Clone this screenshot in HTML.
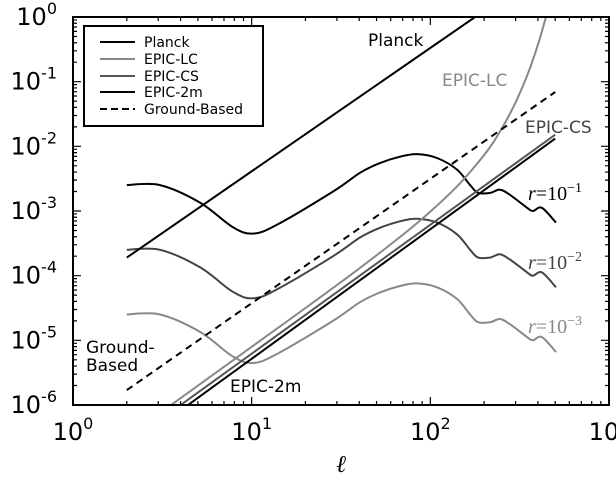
<!DOCTYPE html>
<html><head><meta charset="utf-8"><style>
html,body{margin:0;padding:0;background:#fff;}
svg{display:block;font-family:"DejaVu Sans","Liberation Sans",sans-serif;}
</style></head><body>
<svg id="chart" width="616" height="483" viewBox="0 0 616 483" xmlns="http://www.w3.org/2000/svg"></svg>
<script>
// ---- data (log10 values) ----
const rEll = [2, 3.07, 5.14, 7.85, 10.2, 13.9, 28.5, 40.4, 52.2, 67.6, 84.1, 109, 141, 167, 185, 216, 245, 279, 348, 375, 421, 505];
const rShape = [-2.60, -2.60, -2.87, -3.25, -3.35, -3.21, -2.70, -2.41, -2.26, -2.16, -2.12, -2.18, -2.36, -2.60, -2.72, -2.72, -2.67, -2.75, -2.95, -3.00, -2.95, -3.18];
const rValues = [-1, -2, -3];
const planckEll = [2, 178];
const planckVal = [-3.72, 0];
const groundEll = [2, 500];
const groundVal = [-5.77, -1.16];
const lcEll = [3.27, 10, 20, 40.4, 70, 100, 140, 180, 220, 260, 300, 350, 400, 444];
const lcVal = [-6.07, -5.10, -4.50, -3.88, -3.37, -3.01, -2.63, -2.29, -1.98, -1.65, -1.32, -0.89, -0.43, 0];
const csEll = [4.0, 500];
const csVal = [-6.0, -1.82];
const m2Ell = [4.4, 500];
const m2Val = [-6.0, -1.88];
const xTicks = [0, 1, 2, 3];
const yTicks = [0, -1, -2, -3, -4, -5, -6];

// ---- axes ----
const L = 73, R = 609, T = 17, B = 405;
const X = l => L + (R - L) * Math.log10(l) / 3;
const Y = lv => T + (B - T) * (-lv) / 6;
const svg = document.getElementById('chart');
const NS = 'http://www.w3.org/2000/svg';
function mk(tag, attrs, parent) {
  const e = document.createElementNS(NS, tag);
  for (const k in attrs) e.setAttribute(k, attrs[k]);
  (parent || svg).appendChild(e);
  return e;
}
function pathFrom(ells, vals) {
  const p = ells.map((l, i) => [X(l), Y(vals[i])]);
  let d = 'M' + p[0][0].toFixed(1) + ',' + p[0][1].toFixed(1);
  for (let i = 0; i < p.length - 1; i++) {
    const p0 = p[Math.max(0, i - 1)], p1 = p[i], p2 = p[i + 1], p3 = p[Math.min(p.length - 1, i + 2)];
    const c1 = [p1[0] + (p2[0] - p0[0]) / 6, p1[1] + (p2[1] - p0[1]) / 6];
    const c2 = [p2[0] - (p3[0] - p1[0]) / 6, p2[1] - (p3[1] - p1[1]) / 6];
    d += ' C' + c1.map(v => v.toFixed(1)).join(',') + ' ' + c2.map(v => v.toFixed(1)).join(',') + ' ' + p2[0].toFixed(1) + ',' + p2[1].toFixed(1);
  }
  return d;
}
mk('defs', {}).innerHTML = '<clipPath id="clip"><rect x="73" y="17" width="536" height="388"/></clipPath>';
const g = mk('g', {'clip-path': 'url(#clip)'});



function series(ells, vals, color, name, dash) {
  const a = {d: pathFrom(ells, vals), fill: 'none', stroke: color, 'stroke-width': 2};
  if (dash) a['stroke-dasharray'] = dash;
  const e = mk('path', a, g);
  
  
}
const rColors = ['#000', '#444', '#888'];
rValues.forEach((rv, k) => {
  series(rEll, rShape.map(v => v + (rv + 1)), rColors[k], 'signal-r-' + (k + 1));
});
series(planckEll, planckVal, '#000', 'planck-line');
series(lcEll, lcVal, '#888', 'epic-lc-line');
series(csEll, csVal, '#555', 'epic-cs-line');
series(m2Ell, m2Val, '#000', 'epic-2m-line');
series(groundEll, groundVal, '#000', 'ground-based-line', '7,5');

// frame
const fr = mk('rect', {x: L, y: T, width: R - L, height: B - T, fill: 'none', stroke: '#000', 'stroke-width': 2});



// ticks
let td = '';
for (let dec = 0; dec < 3; dec++) for (let m = 1; m <= 9; m++) {
  const x = X(m * Math.pow(10, dec)); const len = m === 1 ? 8 : 4;
  td += `M${x},${B}v${-len}M${x},${T}v${len}`;
}
for (let dec = -6; dec < 0; dec++) for (let m = 1; m <= 9; m++) {
  const y = Y(dec + Math.log10(m)); const len = m === 1 ? 8 : 4;
  td += `M${L},${y}h${len}M${R},${y}h${-len}`;
}
const tk = mk('path', {d: td, stroke: '#000', 'stroke-width': 1.2, fill: 'none'});



xTicks.forEach(t => {
  const e = mk('text', {x: X(Math.pow(10, t)), y: 440, 'text-anchor': 'middle', 'font-size': 24});
  
  
  e.innerHTML = '10<tspan dy="-11" font-size="16">' + t + '</tspan>';
});
yTicks.forEach(t => {
  const e = mk('text', {x: 57, y: Y(t) + 8, 'text-anchor': 'end', 'font-size': 24});
  
  
  e.innerHTML = '10<tspan dy="-11" font-size="16">' + t + '</tspan>';
});
const xl = mk('text', {x: 341, y: 472, 'text-anchor': 'middle', 'font-size': 24, 'font-style': 'italic', 'font-family': 'Liberation Serif, serif'});


xl.textContent = 'ℓ';

// annotations
function label(x, y, txt, color, name, size) {
  const e = mk('text', {x: x, y: y, fill: color, 'font-size': size || 17});
  
  
  e.innerHTML = txt;
  return e;
}
label(368, 46, 'Planck', '#000', 'planck-label');
label(442, 86, 'EPIC-LC', '#888', 'epic-lc-label');
label(525, 133, 'EPIC-CS', '#444', 'epic-cs-label');
label(230, 392, 'EPIC-2m', '#000', 'epic-2m-label');
label(86, 353, 'Ground-', '#000', 'ground-label-1');
label(86, 371, 'Based', '#000', 'ground-label-2');
const rl = ['−1', '−2', '−3'];
[200, 269, 333].forEach((y, k) => {
  label(528, y, '<tspan font-style="italic">r</tspan>=10<tspan dy="-8" font-size="14">' + rl[k] + '</tspan>', rColors[k], 'r-label-' + (k + 1), 20).setAttribute('font-family', 'Liberation Serif, serif');
});

// legend
const lg = mk('g', {});


mk('rect', {x: 84, y: 26, width: 179, height: 100, fill: '#fff', stroke: '#000', 'stroke-width': 2}, lg);
const legNames = ['Planck', 'EPIC-LC', 'EPIC-CS', 'EPIC-2m', 'Ground-Based'];
const legColors = ['#000', '#888', '#555', '#000', '#000'];
const legY = [42, 59, 76, 92, 109];
legNames.forEach((n, i) => {
  const a = {x1: 100, x2: 135, y1: legY[i], y2: legY[i], stroke: legColors[i], 'stroke-width': 2};
  if (i === 4) a['stroke-dasharray'] = '7,4';
  mk('line', a, lg);
  const t = mk('text', {x: 144, y: legY[i] + 5, 'font-size': 14}, lg);
  
  
  t.textContent = n;
});
</script>
</body></html>
